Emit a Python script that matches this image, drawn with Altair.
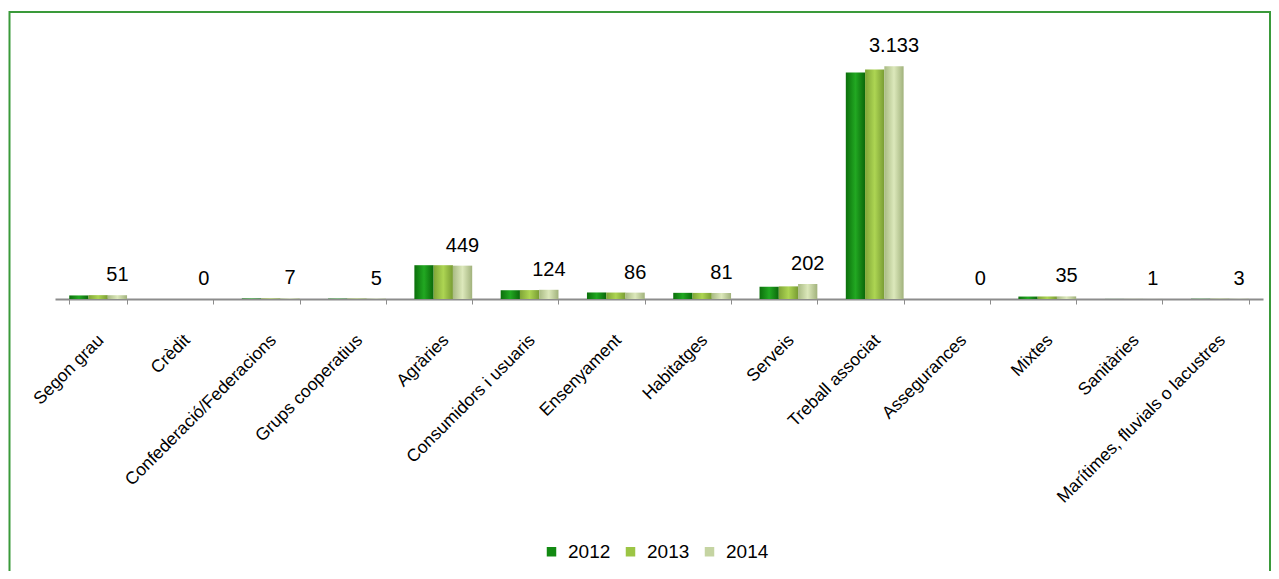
import altair as alt
import pandas as pd

categories = ["Segon grau", "Crèdit", "Confederació/Federacions", "Grups cooperatius",
              "Agràries", "Consumidors i usuaris", "Ensenyament", "Habitatges", "Serveis",
              "Treball associat", "Assegurances", "Mixtes", "Sanitàries",
              "Marítimes, fluvials o lacustres"]
years = ["2012", "2013", "2014"]
v2012 = [48, 0, 7, 5, 455, 118, 88, 83, 165, 3050, 0, 33, 1, 3]
v2013 = [52, 0, 7, 5, 455, 120, 87, 82, 170, 3090, 0, 34, 1, 3]
v2014 = [51, 0, 7, 5, 449, 124, 86, 81, 202, 3133, 0, 35, 1, 3]

rows = []
for y, vals in zip(years, [v2012, v2013, v2014]):
    for c, v in zip(categories, vals):
        rows.append({"cat": c, "year": y, "value": v,
                     "label": f"{v:,}".replace(",", ".")})
df = pd.DataFrame(rows)

grads = {
    "2012": ["#0b6f0b", "#22a822", "#0a680a"],
    "2013": ["#7fa536", "#add553", "#789c33"],
    "2014": ["#a9bb84", "#dce8bb", "#a1b27c"],
}
legend_colors = ["#128a12", "#9cc545", "#c5d4a2"]

x_enc = alt.X("cat:N", sort=categories, title=None,
              scale=alt.Scale(paddingInner=0.33, paddingOuter=0.165),
              axis=alt.Axis(labelAngle=-45, labelAlign="right", labelBaseline="top",
                            labelPadding=27, labelFontSize=17.5, labelColor="#000000",
                            labelFont="Liberation Sans", tickColor="#8c8c8c",
                            tickSize=5, tickBand="extent", domainColor="#8c8c8c",
                            domainWidth=2, labelLimit=400, labelOffset=-4))
xo_enc = alt.XOffset("year:N", scale=alt.Scale(domain=years))
y_enc = alt.Y("value:Q", scale=alt.Scale(domain=[0, 3500]), axis=None)

base = alt.Chart(df)

layers = []
for yr in years:
    s = grads[yr]
    layers.append(
        base.transform_filter(alt.datum.year == yr).mark_bar(
            fill=alt.Gradient(gradient="linear", x1=0, x2=1, y1=0, y2=0,
                              stops=[alt.GradientStop(color=s[0], offset=0),
                                     alt.GradientStop(color=s[1], offset=0.5),
                                     alt.GradientStop(color=s[2], offset=1)])
        ).encode(x=x_enc, xOffset=xo_enc, y=y_enc)
    )

labels = base.transform_filter(alt.datum.year == "2014").mark_text(
    dy=-20, fontSize=20, font="Liberation Sans", color="#000000", baseline="middle"
).encode(x=x_enc, xOffset=xo_enc, y=y_enc, text="label:N")

legend_layer = base.mark_square(opacity=0, size=1).encode(
    x=x_enc, xOffset=xo_enc, y=y_enc,
    color=alt.Color("year:N", scale=alt.Scale(domain=years, range=legend_colors),
                    legend=alt.Legend(title=None, orient="none", direction="horizontal",
                                      legendX=487, legendY=503, symbolType="square",
                                      symbolSize=90, symbolOpacity=1, labelFontSize=19,
                                      labelFont="Liberation Sans", labelColor="#000000",
                                      labelOffset=7, columnPadding=10,
                                      symbolStrokeWidth=0))
)

frame = alt.Chart(pd.DataFrame({"a": [0]})).mark_rect(
    fill=None, stroke="#3a9a3a", strokeWidth=2
).encode(x=alt.value(-45.5), x2=alt.value(1215), y=alt.value(-27), y2=alt.value(538))

chart = alt.layer(frame, *layers, labels, legend_layer).properties(
    width=1208, height=260,
    padding={"left": 47, "top": 31, "right": 8, "bottom": 272},
    autosize=alt.AutoSizeParams(type="none"),
).configure_view(stroke=None)

chart.save("out.html", embed_options={"renderer": "svg", "actions": False})
